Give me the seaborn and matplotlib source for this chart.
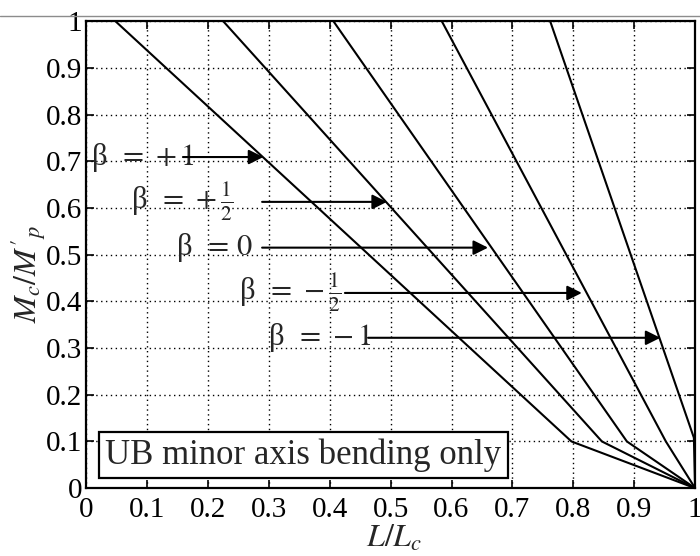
import matplotlib
matplotlib.use("Agg")
import matplotlib.pyplot as plt
from matplotlib.lines import Line2D
import seaborn as sns
import numpy as np

# ---- data ----
L_b_p1 = [0.048, 0.797, 1.0]
M_b_p1 = [1.0, 0.1, 0.0]
L_b_ph = [0.225, 0.847, 1.0]
M_b_ph = [1.0, 0.1, 0.0]
L_b_0 = [0.406, 0.888, 1.0]
M_b_0 = [1.0, 0.1, 0.0]
L_b_mh = [0.584, 0.952, 1.0]
M_b_mh = [1.0, 0.1, 0.0]
L_b_m1 = [0.762, 0.998, 1.0]
M_b_m1 = [1.0, 0.108, 0.0]

curves = [(L_b_p1, M_b_p1), (L_b_ph, M_b_ph), (L_b_0, M_b_0),
          (L_b_mh, M_b_mh), (L_b_m1, M_b_m1)]

beta_labels = ["β $\\,=\\,+1$", "β $\\,=\\,+\\frac{1}{2}$", "β $\\,=\\,0$",
               "β $\\,=\\,-\\frac{1}{2}$", "β $\\,=\\,-1$"]
label_x = [0.008, 0.074, 0.147, 0.251, 0.298]
arrow_start = [0.159, 0.289, 0.289, 0.425, 0.463]
arrow_tip = [0.291, 0.494, 0.660, 0.814, 0.943]
arrow_y = [0.709, 0.613, 0.515, 0.418, 0.322]

tick_vals = [0, 0.1, 0.2, 0.3, 0.4, 0.5, 0.6, 0.7, 0.8, 0.9, 1.0]
tick_labels = ["0", "0.1", "0.2", "0.3", "0.4", "0.5", "0.6", "0.7", "0.8", "0.9", "1"]

box_text = "UB minor axis bending only"

# ---- style ----
sns.set_style("ticks")
plt.rcParams["font.family"] = ["Liberation Serif", "DejaVu Serif"]
plt.rcParams["mathtext.fontset"] = "stix"

fig = plt.figure(figsize=(7.0, 5.56), dpi=100)
ax = fig.add_axes([0.123, 0.122, 0.870, 0.840])

for Lx, My in curves:
    sns.lineplot(x=Lx, y=My, color="black", lw=1.5, sort=False,
                 estimator=None, ax=ax)

ax.set_xlim(0, 1)
ax.set_ylim(0, 1)
ax.set_xticks(tick_vals)
ax.set_xticklabels(tick_labels)
ax.set_yticks(tick_vals)
ax.set_yticklabels(tick_labels)
ax.tick_params(direction="in", length=6, width=1.2, top=True, right=True,
               labelsize=21, colors="black")
ax.tick_params(axis="x", pad=6)
ax.tick_params(axis="y", pad=3)
for s in ax.spines.values():
    s.set_visible(True)
    s.set_linewidth(1.6)
    s.set_color("black")
ax.grid(True, color="black", linestyle=(0, (1, 2.5)), linewidth=1.0)
ax.set_axisbelow(True)

ax.set_xlabel(r"$L/L_c$", fontsize=23)
ax.set_ylabel(r"$M_c/M'_p$", fontsize=23)
ax.xaxis.set_label_coords(0.506, -0.075)
ax.yaxis.set_label_coords(-0.063, 0.46)

for txt, lx, xs, xt, yy in zip(beta_labels, label_x, arrow_start, arrow_tip, arrow_y):
    ax.text(lx, yy, txt, fontsize=22, ha="left", va="center", zorder=5)
    ax.annotate("", xy=(xt, yy), xytext=(xs, yy),
                arrowprops=dict(arrowstyle="-|>", color="black", lw=1.5,
                                mutation_scale=22, shrinkA=0, shrinkB=0),
                zorder=5)

ax.text(0.357, 0.071, box_text, fontsize=25, ha="center", va="center",
        zorder=6,
        bbox=dict(boxstyle="square,pad=0.18", facecolor="white",
                  edgecolor="black", linewidth=1.6))

fig.add_artist(Line2D([0, 1], [0.972, 0.972], color="0.55", lw=1.0))

fig.savefig("out.png", dpi=100)
